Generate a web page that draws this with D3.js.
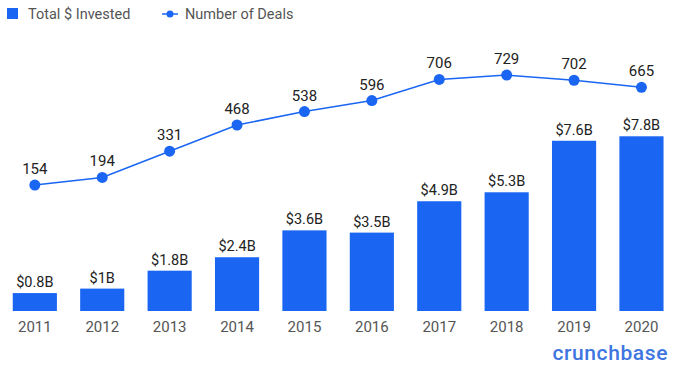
<!DOCTYPE html>
<html><head><meta charset="utf-8">
<script src="https://cdn.jsdelivr.net/npm/d3@7"></script>
<style>
html,body{margin:0;padding:0;background:#fff;}
svg{display:block;font-family:Roboto, "Open Sans", sans-serif;}
</style></head>
<body>
<svg id="c" width="675" height="367"></svg>
<script>
const years = ["2011","2012","2013","2014","2015","2016","2017","2018","2019","2020"];
const invested = [0.8, 1, 1.8, 2.4, 3.6, 3.5, 4.9, 5.3, 7.6, 7.8];
const investedLabels = ["$0.8B","$1B","$1.8B","$2.4B","$3.6B","$3.5B","$4.9B","$5.3B","$7.6B","$7.8B"];
const deals = [154, 194, 331, 468, 538, 596, 706, 729, 702, 665];

const blue = "#1a66f2";
const svg = d3.select("#c");

const x = d3.scaleBand().domain(years).range([1.3, 675]).paddingInner(0.345).paddingOuter(0.17);
const yBar = d3.scaleLinear().domain([0, 8]).range([311, 131.8]);
const yLine = d3.scaleLinear().domain([0, 800]).range([214.5, 61.5]);

// bars
svg.append("g").selectAll("rect").data(years).join("rect")
  .attr("x", d => x(d)).attr("width", x.bandwidth())
  .attr("y", (d,i) => yBar(invested[i]))
  .attr("height", (d,i) => yBar(0) - yBar(invested[i]))
  .attr("fill", blue);

svg.append("g").selectAll("text").data(years).join("text")
  .attr("x", d => x(d) + x.bandwidth()/2)
  .attr("y", (d,i) => yBar(invested[i]) - 6)
  .attr("text-anchor","middle").attr("font-size",14.5).attr("fill","#222")
  .text((d,i) => investedLabels[i]);

// x axis labels
const xAxis = d3.axisBottom(x).tickSize(0).tickPadding(0);
const gx = svg.append("g").attr("transform","translate(0,321)").call(xAxis);
gx.select(".domain").remove();
gx.selectAll("text").attr("font-size",15).attr("fill","#555").attr("font-family","Roboto, sans-serif");

// line
const cx = d => x(d) + x.bandwidth()/2;
const line = d3.line().x((d,i) => cx(years[i])).y(d => yLine(d));
svg.append("path").datum(deals).attr("d", line)
  .attr("fill","none").attr("stroke", blue).attr("stroke-width",1.5);
svg.append("g").selectAll("circle").data(deals).join("circle")
  .attr("cx",(d,i) => cx(years[i])).attr("cy", d => yLine(d)).attr("r",5.5).attr("fill",blue);
svg.append("g").selectAll("text").data(deals).join("text")
  .attr("x",(d,i) => cx(years[i])).attr("y", d => yLine(d) - 11)
  .attr("text-anchor","middle").attr("font-size",15).attr("fill","#222")
  .text(d => d);

// legend
const lg = svg.append("g");
lg.append("rect").attr("x",7).attr("y",8).attr("width",11).attr("height",11).attr("fill",blue);
lg.append("text").attr("x",28).attr("y",19).attr("font-size",14.5).attr("fill","#555").text("Total $ Invested");
lg.append("line").attr("x1",162).attr("x2",178).attr("y1",14).attr("y2",14).attr("stroke",blue).attr("stroke-width",1.5);
lg.append("circle").attr("cx",170).attr("cy",14).attr("r",3.5).attr("fill",blue);
lg.append("text").attr("x",185).attr("y",19).attr("font-size",14.5).attr("fill","#555").text("Number of Deals");

// brand
svg.append("text").attr("x",668).attr("y",360).attr("text-anchor","end")
  .attr("font-size",21).attr("font-weight",500).attr("fill","#3f75e0")
  .attr("font-family","Roboto, sans-serif").attr("letter-spacing",0.6).text("crunchbase");
</script>
</body></html>
